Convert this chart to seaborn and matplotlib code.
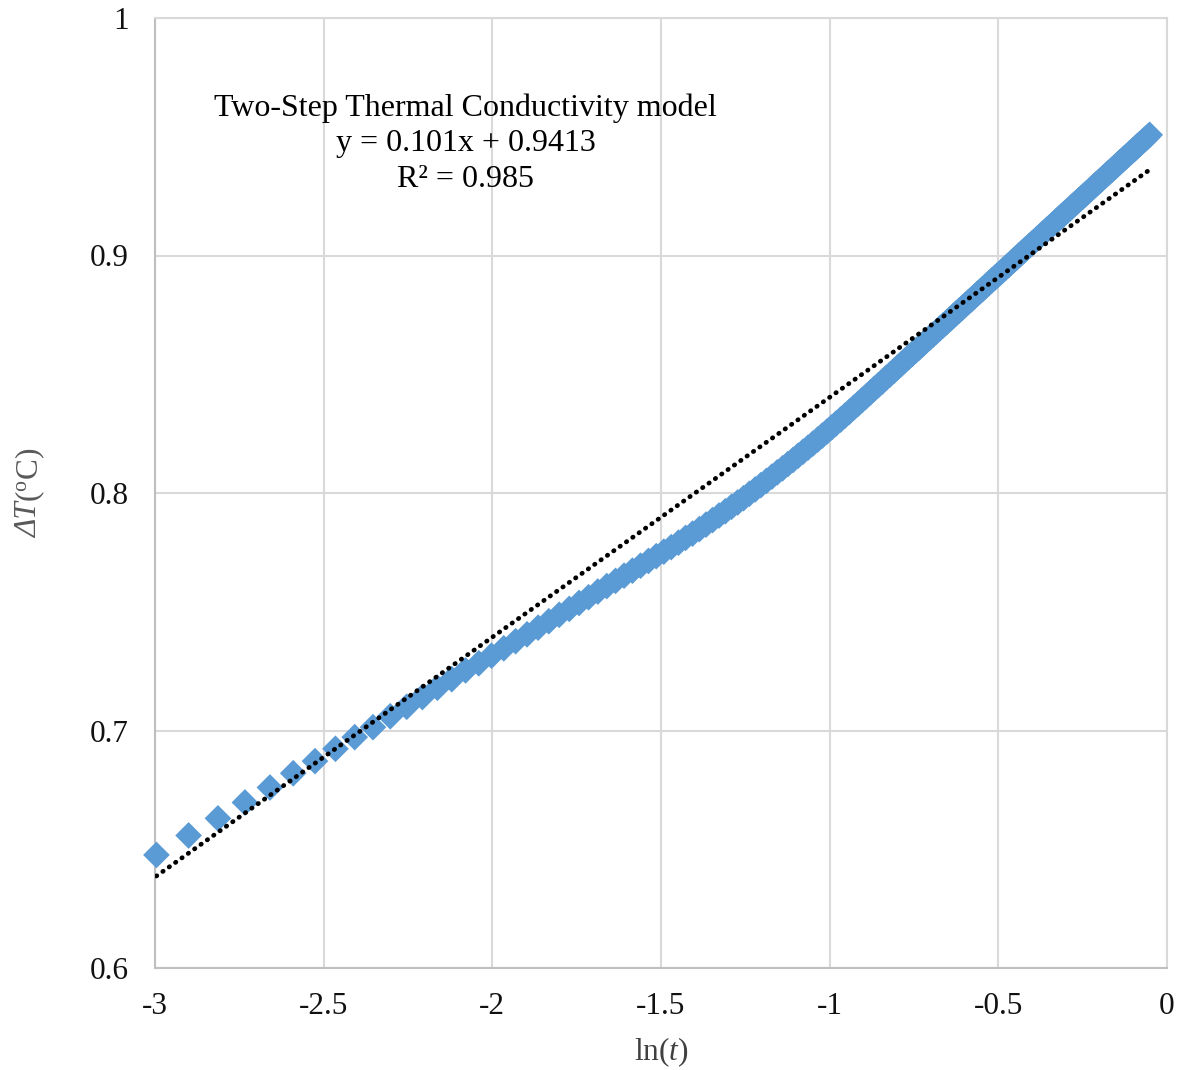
import numpy as np
import pandas as pd
import matplotlib
matplotlib.use("Agg")
import matplotlib.pyplot as plt
import seaborn as sns

# Sampling times t (s)
time_s = [
    0.050, 0.055, 0.060, 0.065, 0.070, 0.075, 0.080, 0.085, 0.090, 0.095,
    0.100, 0.105, 0.110, 0.115, 0.120, 0.125, 0.130, 0.135, 0.140, 0.145,
    0.150, 0.155, 0.160, 0.165, 0.170, 0.175, 0.180, 0.185, 0.190, 0.195,
    0.200, 0.205, 0.210, 0.215, 0.220, 0.225, 0.230, 0.235, 0.240, 0.245,
    0.250, 0.255, 0.260, 0.265, 0.270, 0.275, 0.280, 0.285, 0.290, 0.295,
    0.300, 0.305, 0.310, 0.315, 0.320, 0.325, 0.330, 0.335, 0.340, 0.345,
    0.350, 0.355, 0.360, 0.365, 0.370, 0.375, 0.380, 0.385, 0.390, 0.395,
    0.400, 0.405, 0.410, 0.415, 0.420, 0.425, 0.430, 0.435, 0.440, 0.445,
    0.450, 0.455, 0.460, 0.465, 0.470, 0.475, 0.480, 0.485, 0.490, 0.495,
    0.500, 0.505, 0.510, 0.515, 0.520, 0.525, 0.530, 0.535, 0.540, 0.545,
    0.550, 0.555, 0.560, 0.565, 0.570, 0.575, 0.580, 0.585, 0.590, 0.595,
    0.600, 0.605, 0.610, 0.615, 0.620, 0.625, 0.630, 0.635, 0.640, 0.645,
    0.650, 0.655, 0.660, 0.665, 0.670, 0.675, 0.680, 0.685, 0.690, 0.695,
    0.700, 0.705, 0.710, 0.715, 0.720, 0.725, 0.730, 0.735, 0.740, 0.745,
    0.750, 0.755, 0.760, 0.765, 0.770, 0.775, 0.780, 0.785, 0.790, 0.795,
    0.800, 0.805, 0.810, 0.815, 0.820, 0.825, 0.830, 0.835, 0.840, 0.845,
    0.850, 0.855, 0.860, 0.865, 0.870, 0.875, 0.880, 0.885, 0.890, 0.895,
    0.900, 0.905, 0.910, 0.915, 0.920, 0.925, 0.930, 0.935, 0.940, 0.945,
    0.950,
]

# Measured temperature rise ΔT (°C)
delta_T = [
    0.6476, 0.6558, 0.6630, 0.6697, 0.6760, 0.6820, 0.6871, 0.6923, 0.6972, 0.7014,
    0.7060, 0.7100, 0.7141, 0.7180, 0.7216, 0.7253, 0.7283, 0.7315, 0.7346, 0.7376,
    0.7405, 0.7433, 0.7460, 0.7487, 0.7512, 0.7537, 0.7561, 0.7585, 0.7608, 0.7630,
    0.7652, 0.7673, 0.7694, 0.7714, 0.7734, 0.7753, 0.7772, 0.7791, 0.7811, 0.7829,
    0.7848, 0.7867, 0.7886, 0.7905, 0.7923, 0.7942, 0.7960, 0.7978, 0.7997, 0.8015,
    0.8033, 0.8051, 0.8069, 0.8087, 0.8104, 0.8122, 0.8139, 0.8157, 0.8174, 0.8191,
    0.8208, 0.8225, 0.8242, 0.8259, 0.8276, 0.8293, 0.8309, 0.8326, 0.8342, 0.8359,
    0.8375, 0.8391, 0.8407, 0.8423, 0.8439, 0.8454, 0.8469, 0.8485, 0.8499, 0.8514,
    0.8529, 0.8543, 0.8558, 0.8572, 0.8586, 0.8600, 0.8613, 0.8627, 0.8641, 0.8654,
    0.8667, 0.8680, 0.8693, 0.8706, 0.8718, 0.8731, 0.8743, 0.8756, 0.8768, 0.8780,
    0.8792, 0.8804, 0.8815, 0.8827, 0.8839, 0.8850, 0.8861, 0.8873, 0.8884, 0.8895,
    0.8906, 0.8917, 0.8927, 0.8938, 0.8949, 0.8959, 0.8970, 0.8980, 0.8990, 0.9001,
    0.9011, 0.9021, 0.9031, 0.9041, 0.9050, 0.9060, 0.9070, 0.9079, 0.9089, 0.9098,
    0.9108, 0.9117, 0.9126, 0.9135, 0.9145, 0.9154, 0.9163, 0.9172, 0.9181, 0.9189,
    0.9198, 0.9207, 0.9216, 0.9224, 0.9233, 0.9241, 0.9249, 0.9258, 0.9266, 0.9274,
    0.9283, 0.9291, 0.9299, 0.9307, 0.9315, 0.9323, 0.9331, 0.9339, 0.9347, 0.9354,
    0.9362, 0.9370, 0.9377, 0.9385, 0.9393, 0.9400, 0.9408, 0.9415, 0.9422, 0.9430,
    0.9437, 0.9444, 0.9451, 0.9459, 0.9466, 0.9473, 0.9480, 0.9487, 0.9494, 0.9501,
    0.9508,
]

# Linear fit of ΔT against ln(t)
fit_slope = 0.101
fit_intercept = 0.9413
fit_r2 = 0.985
model_name = "Two-Step Thermal Conductivity model"

x_ticks = [-3, -2.5, -2, -1.5, -1, -0.5, 0]
x_tick_labels = ["-3", "-2.5", "-2", "-1.5", "-1", "-0.5", "0"]
y_ticks = [0.6, 0.7, 0.8, 0.9, 1.0]
y_tick_labels = ["0.6", "0.7", "0.8", "0.9", "1"]

sns.set_theme(style="white")
plt.rcParams["font.family"] = ["Liberation Serif", "DejaVu Serif"]
plt.rcParams["mathtext.fontset"] = "custom"
plt.rcParams["mathtext.rm"] = "Liberation Serif"
plt.rcParams["mathtext.it"] = "Liberation Serif:italic"

FS = 22.5
df = pd.DataFrame({"ln_t": np.log(time_s), "dT": delta_T})

fig = plt.figure(figsize=(11.85, 10.7), dpi=100)
ax = fig.add_axes([155 / 1185, 102 / 1070, 1012 / 1185, 950 / 1070])

sns.scatterplot(data=df, x="ln_t", y="dT", marker="D", s=185,
                color="#5B9BD5", edgecolor="none", linewidth=0,
                clip_on=False, zorder=3, legend=False, ax=ax)

fit_x = np.array([df["ln_t"].min(), df["ln_t"].max()])
fit_y = fit_slope * fit_x + fit_intercept
sns.lineplot(x=fit_x, y=fit_y, color="black", lw=3.4,
             linestyle=(0, (0.1, 1.55)), dash_capstyle="round",
             zorder=4, ax=ax)

ax.set_xlim(-3, 0)
ax.set_ylim(0.6, 1.0)
ax.set_xticks(x_ticks, x_tick_labels)
ax.set_yticks(y_ticks, y_tick_labels)
ax.tick_params(axis="both", length=0, labelsize=FS, colors="#111111")
ax.tick_params(axis="x", pad=17)
ax.tick_params(axis="y", pad=19)

ax.grid(True, color="#D9D9D9", lw=1.5)
ax.set_axisbelow(True)
for side in ("left", "bottom"):
    ax.spines[side].set_color("#BFBFBF")
    ax.spines[side].set_linewidth(1.5)
for side in ("top", "right"):
    ax.spines[side].set_color("#D9D9D9")
    ax.spines[side].set_linewidth(1.5)

ax.set_xlabel(r"ln($\mathit{t}$)", fontsize=FS, color="#404040", labelpad=11)
ax.set_ylabel("")

# y-axis title: italic "ΔT" followed by upright unit, stacked along the axis
label_x = 30 / 1185
label_color = "#595959"
part_sym = fig.text(label_x, 0.5, "ΔT", rotation=90, fontsize=FS,
                    style="italic", color=label_color, ha="center", va="top")
part_unit = fig.text(label_x, 0.5, r"($^{\mathrm{o}}$C)", rotation=90,
                     fontsize=FS, color=label_color, ha="center", va="bottom")
renderer = fig.canvas.get_renderer()
h_sym = part_sym.get_window_extent(renderer).height
h_unit = part_unit.get_window_extent(renderer).height
center_px = (968 + 18) / 2
join_px = 1070 - center_px - (h_sym + h_unit) / 2 + h_sym
part_sym.set_position((label_x, join_px / 1070))
part_unit.set_position((label_x, join_px / 1070))

ax.text(0.307, 0.868,
        f"{model_name}\ny = {fit_slope}x + {fit_intercept}\nR\u00b2 = {fit_r2}",
        transform=ax.transAxes, ha="center", va="center", fontsize=23,
        linespacing=1.3, color="black")

fig.savefig("out.png", dpi=100)
